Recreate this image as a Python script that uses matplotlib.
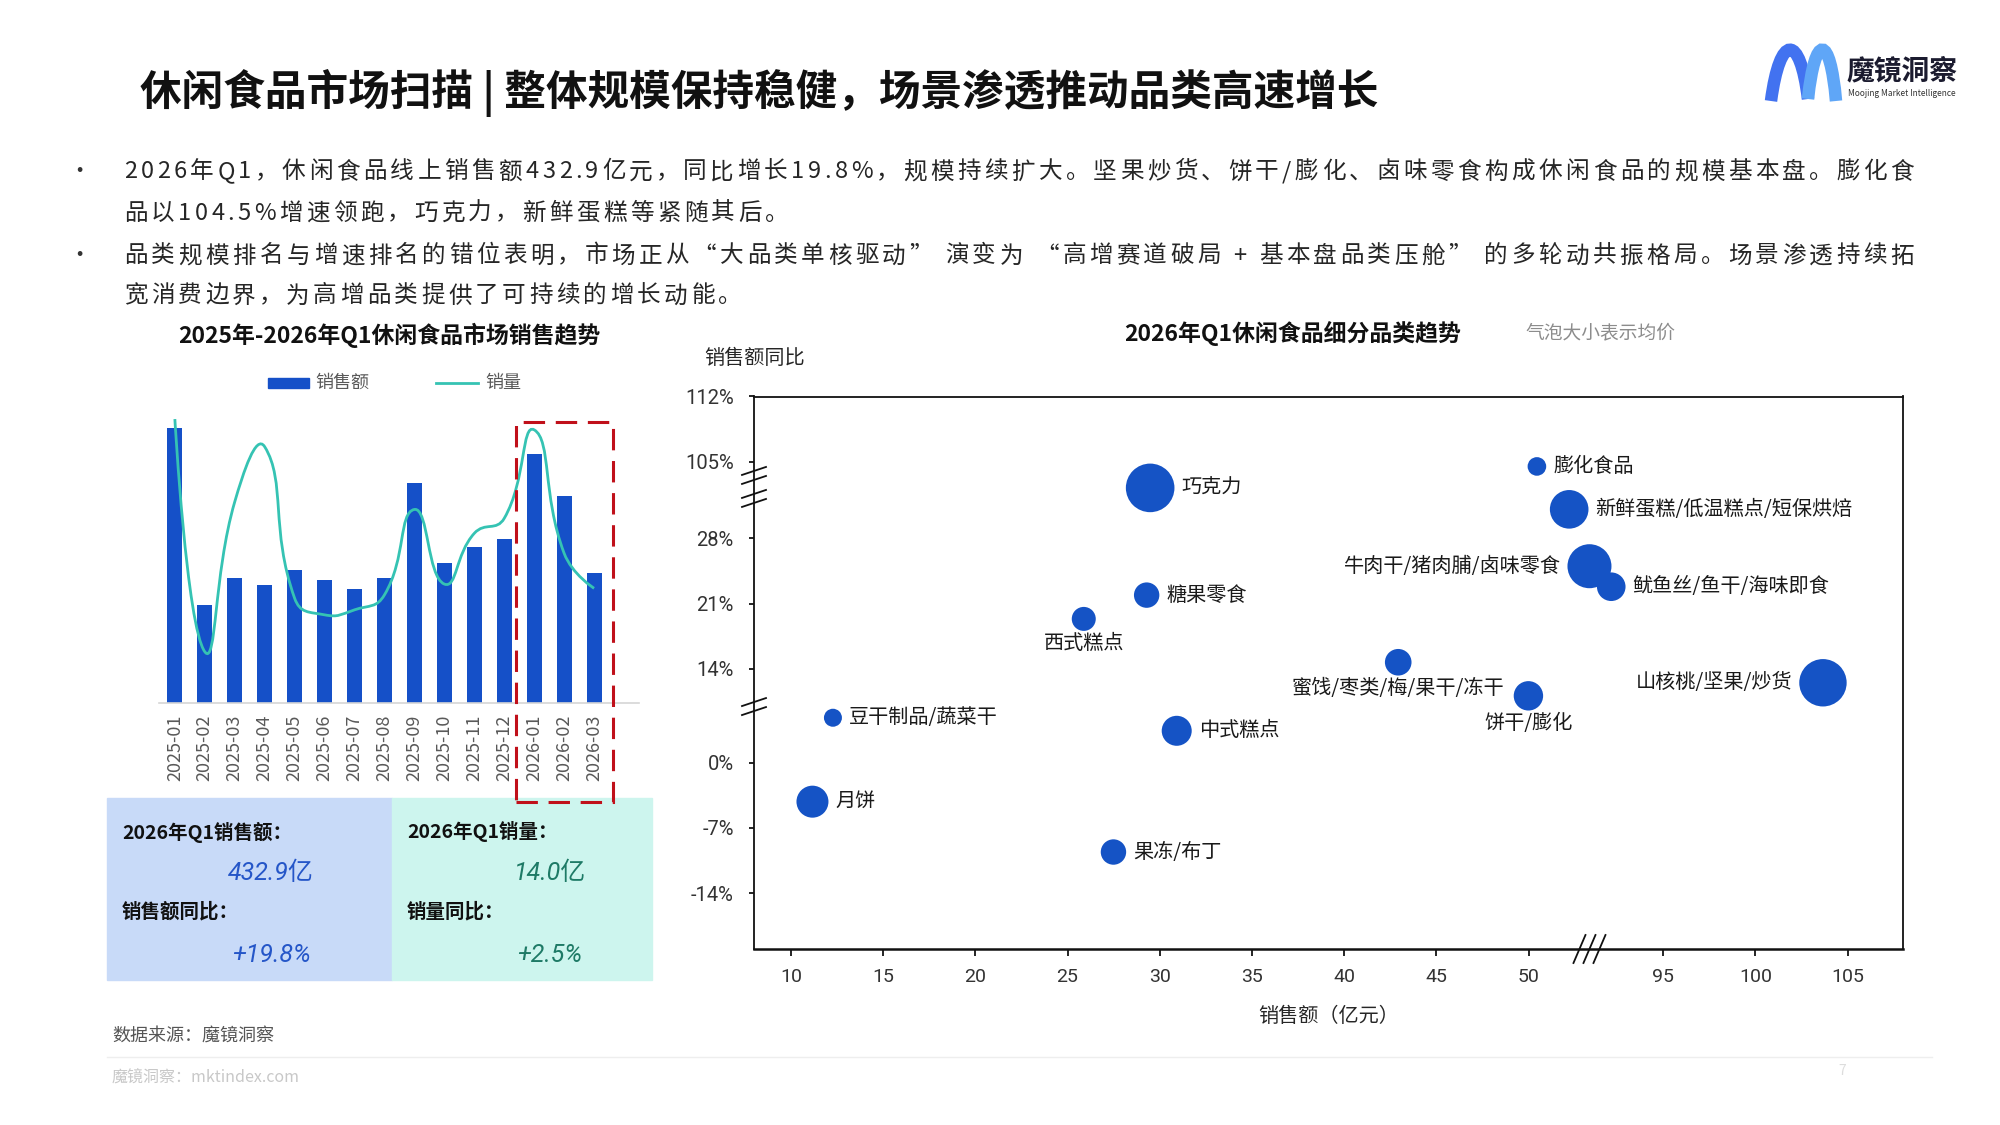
import numpy as np
import matplotlib
matplotlib.use('Agg')
import matplotlib.pyplot as plt
from matplotlib.patches import Rectangle, PathPatch
from matplotlib.path import Path
from matplotlib.lines import Line2D
from matplotlib.transforms import IdentityTransform
from matplotlib.font_manager import FontProperties, findfont, get_font

plt.rcParams['font.family'] = ['Noto Sans CJK SC', 'DejaVu Sans']

# ---- data: monthly trend ----
months = ['2025-01', '2025-02', '2025-03', '2025-04', '2025-05', '2025-06', '2025-07', '2025-08',
          '2025-09', '2025-10', '2025-11', '2025-12', '2026-01', '2026-02', '2026-03']
sales = [203.1, 72.4, 92.3, 87.2, 98.2, 90.9, 84.2, 92.3, 162.5, 103.4, 115.2, 121.1, 183.9, 152.9, 96.1]   # 亿元
volume = [7.39, 1.34, 5.24, 6.67, 2.73, 2.30, 2.43, 2.82, 5.04, 3.10, 4.42, 4.81, 7.11, 3.90, 2.99]         # 亿件

# ---- data: category bubbles ----
cats = ['膨化食品', '巧克力', '新鲜蛋糕/低温糕点/短保烘焙', '牛肉干/猪肉脯/卤味零食', '鱿鱼丝/鱼干/海味即食',
        '糖果零食', '西式糕点', '蜜饯/枣类/梅/果干/冻干', '山核桃/坚果/炒货', '饼干/膨化',
        '豆干制品/蔬菜干', '中式糕点', '月饼', '果冻/布丁']
cat_sales = [50.45, 29.48, 52.2, 53.3, 92.18, 29.29, 25.88, 42.93, 103.66, 49.99, 12.28, 30.92, 11.17, 27.49]
cat_yoy = [104.5, 33.4, 31.1, 25.0, 22.8, 21.9, 19.35, 14.7, 12.5, 11.1, 4.8, 3.4, -4.2, -9.6]
cat_price = [18.6, 48.6, 38.6, 44.0, 28.6, 25.4, 24.0, 26.6, 47.4, 29.4, 18.0, 30.0, 32.0, 25.4]
label_side = ['right', 'right', 'right', 'left', 'right', 'right', 'below', 'below', 'left', 'below',
              'right', 'right', 'right', 'right']

y_ticks = [-14, -7, 0, 14, 21, 28, 105, 112]
x_ticks = [10, 15, 20, 25, 30, 35, 40, 45, 50, 95, 100, 105]
y_gaps = [(6.0, 9.95), (33.5, 102.3)]
x_gaps = [(53.3, 91.0)]

title = '休闲食品市场扫描 | 整体规模保持稳健，场景渗透推动品类高速增长'
b1l1 = '2026年Q1，休闲食品线上销售额432.9亿元，同比增长19.8%，规模持续扩大。坚果炒货、饼干/膨化、卤味零食构成休闲食品的规模基本盘。膨化食'
b1l2 = '品以104.5%增速领跑，巧克力，新鲜蛋糕等紧随其后。'
b2l1 = '品类规模排名与增速排名的错位表明，市场正从“大品类单核驱动” 演变为 “高增赛道破局 + 基本盘品类压舱” 的多轮动共振格局。场景渗透持续拓'
b2l2 = '宽消费边界，为高增品类提供了可持续的增长动能。'

BLUE = '#1550C8'
TEAL = '#35C3B3'
DOT = '#1553C5'
NUM_FONT = ['Roboto', 'Noto Sans CJK SC', 'DejaVu Sans']

W, H = 2000, 1125
DPI = 100
fig = plt.figure(figsize=(20, 11.25), dpi=DPI)


def fx(x):
    return x / W


def fy(y):
    return 1 - y / H


def ftext(x, y, s, **kw):
    kw.setdefault('va', 'center')
    return fig.text(fx(x), fy(y), s, **kw)


def make_break_scale(gaps):
    vals = [-1e4]
    for lo, hi in gaps:
        vals += [lo, hi]
    vals.append(1e4)
    vals = np.array(vals)
    comp = vals.copy()
    for lo, hi in gaps:
        comp = comp - np.clip(vals - lo, 0, hi - lo)

    def fwd(v):
        return np.interp(v, vals, comp)

    def inv(u):
        return np.interp(u, comp, vals)
    return fwd, inv


# letter-spaced body text (the slide uses justified, tracked text)
BODY_PT = 17
body_font = get_font(findfont(FontProperties(family='Noto Sans CJK SC')))
body_font.set_size(BODY_PT, DPI)


def advance(ch):
    return body_font.load_char(ord(ch)).linearHoriAdvance / 65536


def spaced_line(x0, y, s, x1=None, gap=3.4):
    adv = np.array([advance(c) for c in s])
    if x1 is not None:
        gap = (x1 - x0 - adv.sum()) / (len(s) - 1)
    xs = x0 + np.concatenate([[0], np.cumsum(adv[:-1] + gap)])
    for c, xx in zip(s, xs):
        if c != ' ':
            ftext(xx, y, c, fontsize=BODY_PT, color='#262626', ha='left')


# ---- header ----
ftext(140, 93, title, fontsize=30, fontweight='bold', color='#111111')

# logo
left_arch = Path([(fx(1771), fy(101)), (fx(1780), fy(33)), (fx(1800), fy(33)), (fx(1808), fy(99))],
                 [Path.MOVETO, Path.CURVE4, Path.CURVE4, Path.CURVE4])
right_arch = Path([(fx(1808), fy(99)), (fx(1815), fy(33)), (fx(1830), fy(33)), (fx(1836), fy(101))],
                  [Path.MOVETO, Path.CURVE4, Path.CURVE4, Path.CURVE4])
fig.add_artist(PathPatch(left_arch, fill=False, edgecolor='#4272F0', lw=9, capstyle='butt',
                         transform=fig.transFigure))
fig.add_artist(PathPatch(right_arch, fill=False, edgecolor='#5FA6F7', lw=9, capstyle='butt',
                         transform=fig.transFigure))
ftext(1847, 71, '魔镜洞察', fontsize=20, fontweight='bold', color='#1B1B2F')
ftext(1848, 93, 'Moojing Market Intelligence', fontsize=6, color='#333333')

# bullets
for yy in (172, 256):
    ftext(79, yy, '·', fontsize=16, color='#333333', ha='center')
spaced_line(124, 172, b1l1, x1=1914)
spaced_line(124, 213, b1l2)
spaced_line(124, 256, b2l1, x1=1914)
spaced_line(124, 296, b2l2)

# ---- left: monthly bar + line ----
ftext(389, 335, '2025年-2026年Q1休闲食品市场销售趋势', ha='center', fontsize=16.5,
      fontweight='bold', color='#111111')

ax1 = fig.add_axes([fx(159), fy(703.3), (639 - 159) / W, (703.3 - 400) / H])
x = np.arange(len(months))
ax1.bar(x, sales, width=0.5, color=BLUE, zorder=2)
ax1.set_xlim(-0.53, 15.5)
ax1.set_ylim(0, 224)
for side in ('top', 'right', 'left'):
    ax1.spines[side].set_visible(False)
ax1.spines['bottom'].set_color('#D6D6D6')
ax1.spines['bottom'].set_linewidth(1.2)
ax1.set_xticks(x, months, rotation=90, fontsize=13, color='#595959')
ax1.tick_params(axis='x', length=0, pad=8)
ax1.set_yticks([])

ax2 = ax1.twinx()
ax2.set_ylim(0, 7.886)
ax2.axis('off')

# smooth line (echarts-like bezier through the points)
pts = ax2.transData.transform(np.column_stack([x, volume]))
n = len(pts)
smooth = 0.5
cp_prev = pts.copy()
cp_next = pts.copy()
for i in range(1, n - 1):
    p, pr, nx = pts[i], pts[i - 1], pts[i + 1]
    v = nx - pr
    l0 = np.hypot(*(p - pr))
    l1 = np.hypot(*(nx - p))
    r = l1 / (l0 + l1)
    cp_next[i] = p + v * smooth * r
    cp_prev[i] = p - v * smooth * (1 - r)
verts = [pts[0]]
codes = [Path.MOVETO]
for i in range(n - 1):
    verts += [cp_next[i], cp_prev[i + 1], pts[i + 1]]
    codes += [Path.CURVE4] * 3
verts = ax2.transData.inverted().transform(np.array(verts))
ax2.add_patch(PathPatch(Path(verts, codes), fill=False, edgecolor=TEAL, lw=2.0, zorder=3, clip_on=False))

# legend
fig.add_artist(Rectangle((fx(268), fy(388)), 41 / W, 10 / H, color=BLUE, transform=fig.transFigure))
ftext(315, 383, '销售额', fontsize=13, color='#595959')
fig.add_artist(Line2D([fx(436), fx(478)], [fy(383), fy(383)], color=TEAL, lw=2, transform=fig.transFigure))
ftext(485, 383, '销量', fontsize=13, color='#595959')

# summary boxes
fig.add_artist(Rectangle((fx(107), fy(980)), (392 - 107) / W, (980 - 798) / H, color='#C8DAF8',
                         transform=fig.transFigure, zorder=1))
fig.add_artist(Rectangle((fx(392), fy(980)), (651.5 - 392) / W, (980 - 798) / H, color='#CDF5EE',
                         transform=fig.transFigure, zorder=1))
ftext(122, 832, '2026年Q1销售额：', fontsize=14, fontweight='bold', color='#111111')
ftext(122, 912, '销售额同比：', fontsize=14, fontweight='bold', color='#111111')
ftext(407, 832, '2026年Q1销量：', fontsize=14, fontweight='bold', color='#111111')
ftext(407, 912, '销量同比：', fontsize=14, fontweight='bold', color='#111111')
ftext(271, 873, '432.9亿', ha='center', fontsize=18, style='italic', color='#2556C8', family=NUM_FONT)
ftext(271, 955, '+19.8%', ha='center', fontsize=18, style='italic', color='#2556C8', family=NUM_FONT)
ftext(550, 873, '14.0亿', ha='center', fontsize=18, style='italic', color='#1E7A66', family=NUM_FONT)
ftext(550, 955, '+2.5%', ha='center', fontsize=18, style='italic', color='#1E7A66', family=NUM_FONT)

# red dashed highlight
fig.add_artist(Rectangle((fx(515.5), fy(802.3)), (613 - 515.5) / W, (802.3 - 421.7) / H, fill=False,
                         edgecolor='#C0101A', lw=2.2, linestyle=(0, (7, 3.5)),
                         transform=fig.transFigure, zorder=10))

# ---- right: bubble chart ----
ftext(1292.5, 333, '2026年Q1休闲食品细分品类趋势', ha='center', fontsize=16.5, fontweight='bold',
      color='#111111')
ftext(1525, 333, '气泡大小表示均价', fontsize=13.5, color='#8C8C8C')
ftext(754.5, 358, '销售额同比', ha='center', fontsize=14.5, color='#262626')
ftext(1328.5, 1017, '销售额（亿元）', ha='center', fontsize=14.5, color='#262626')

ax3 = fig.add_axes([fx(754), fy(949), (1903 - 754) / W, (949 - 396.5) / H])
ax3.set_xscale('function', functions=make_break_scale(x_gaps))
ax3.set_yscale('function', functions=make_break_scale(y_gaps))
radius_px = np.array(cat_price) * 0.5
sizes = (2 * radius_px * 72 / DPI) ** 2
ax3.scatter(cat_sales, cat_yoy, s=sizes, color=DOT, edgecolors='none', zorder=3, clip_on=False)
ax3.set_xlim(8.0, 108.0)
ax3.set_ylim(-20, 112)
ax3.set_xticks(x_ticks, [str(t) for t in x_ticks])
ax3.set_yticks(y_ticks, [f'{t}%' for t in y_ticks])
ax3.minorticks_off()
ax3.tick_params(axis='y', length=3.6, width=1.2, pad=11, labelsize=14.5, labelcolor='#333333')
ax3.tick_params(axis='x', length=5, width=1.2, pad=9, labelsize=14, labelcolor='#333333')
for lab in ax3.get_xticklabels() + ax3.get_yticklabels():
    lab.set_family(NUM_FONT)
for side in ax3.spines:
    ax3.spines[side].set_color('#111111')
    ax3.spines[side].set_linewidth(1.3)
ax3.spines['bottom'].set_linewidth(1.8)

for name, sx, sy, rp, side in zip(cats, cat_sales, cat_yoy, radius_px, label_side):
    if side == 'right':
        off, ha, va = ((rp + 7) * 0.72, 0), 'left', 'center'
    elif side == 'left':
        off, ha, va = (-(rp + 7) * 0.72, 0), 'right', 'center'
    else:
        off, ha, va = (0, -(rp + 13) * 0.72), 'center', 'center'
    ax3.annotate(name, (sx, sy), xytext=off, textcoords='offset points', ha=ha, va=va,
                 fontsize=14.5, color='#1A1A1A', zorder=4)

# break marks
for lo, hi in y_gaps:
    xd, yd = ax3.transData.transform((8.0, lo))
    offs = (-4.5, 4.5) if lo < 20 else (-16, -7, 7, 16)
    for o in offs:
        fig.add_artist(Line2D([xd - 12, xd + 12], [yd + o - 4, yd + o + 4], color='#111111', lw=1.3,
                              transform=IdentityTransform()))
for lo, hi in x_gaps:
    xd, yd = ax3.transData.transform((lo, -20))
    for o in (-10, 0, 10):
        fig.add_artist(Line2D([xd + o - 6, xd + o + 6], [yd - 14, yd + 14], color='#111111', lw=1.3,
                              transform=IdentityTransform()))

# ---- footer ----
ftext(112, 1036, '数据来源：魔镜洞察', fontsize=13, color='#555555')
fig.add_artist(Line2D([fx(107), fx(1932)], [fy(1056.5), fy(1056.5)], color='#EEEEEE', lw=1,
                      transform=fig.transFigure))
ftext(112, 1078, '魔镜洞察：mktindex.com', fontsize=11.5, color='#C8C8C8')
ftext(1842, 1071, '7', fontsize=10, color='#DDDDDD', ha='center')

fig.savefig('out.png', dpi=DPI, facecolor='white')
